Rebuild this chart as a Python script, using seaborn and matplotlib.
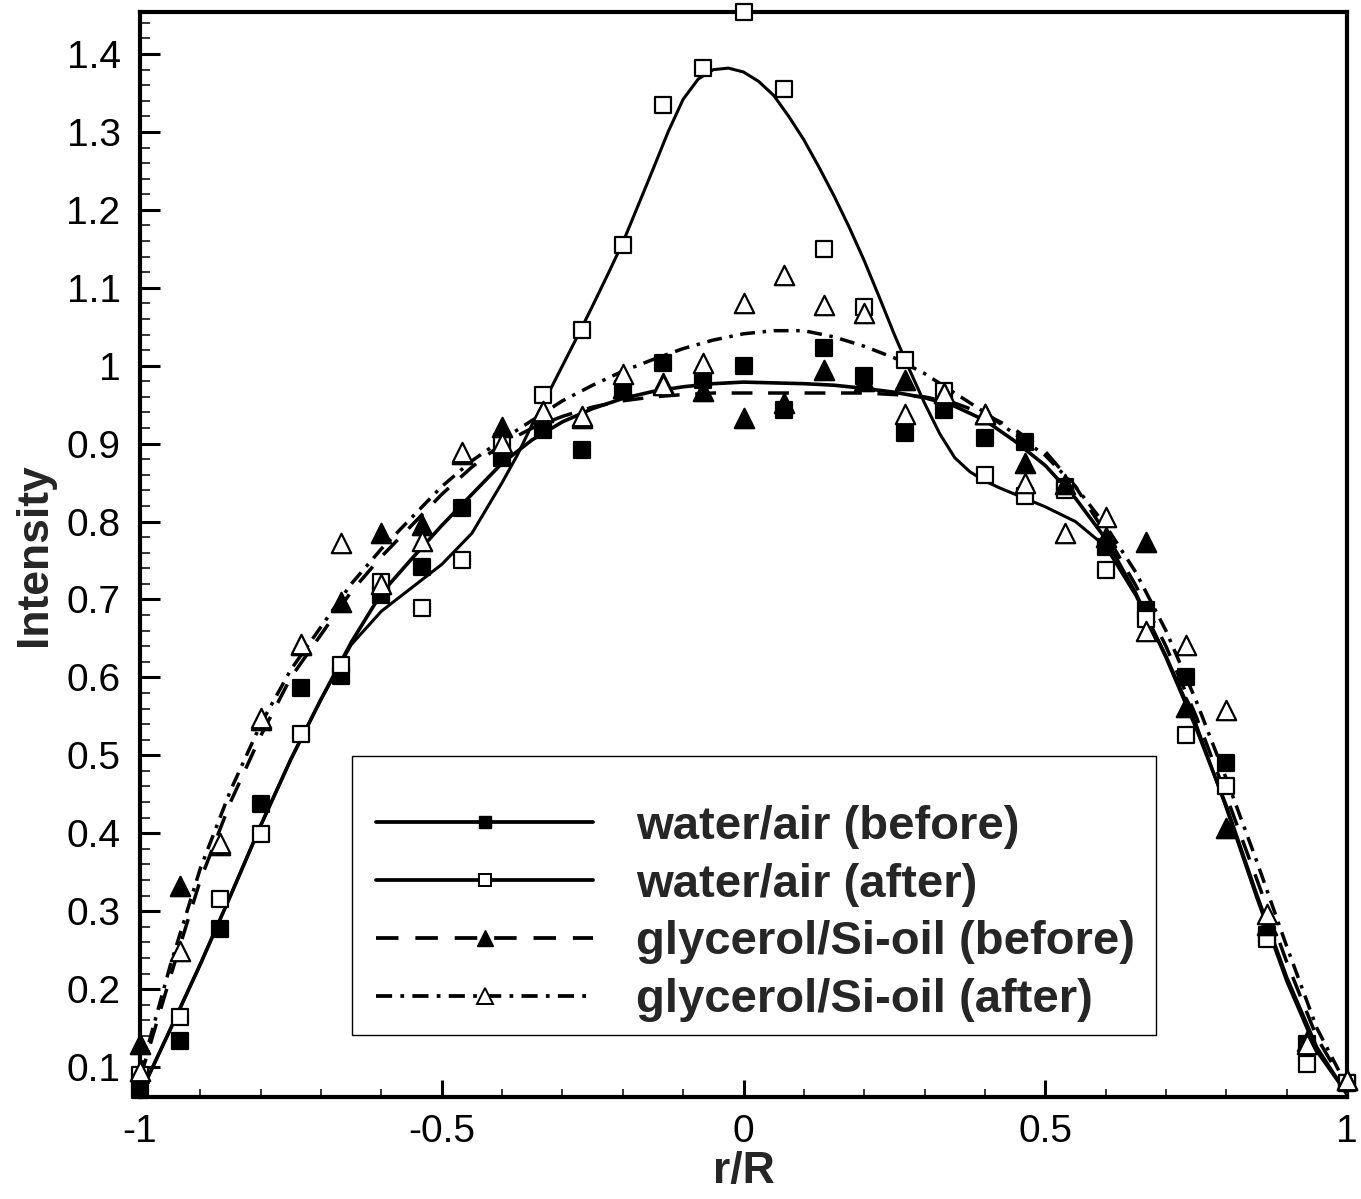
import numpy as np
import matplotlib
matplotlib.use("Agg")
import matplotlib.pyplot as plt
from matplotlib.lines import Line2D
from matplotlib.patches import Rectangle
from matplotlib.ticker import MultipleLocator, FuncFormatter
import seaborn as sns

# measured profiles at 31 radial stations
r_pts = [-1.0, -0.933, -0.867, -0.8, -0.733, -0.667, -0.6, -0.533, -0.467, -0.4,
         -0.333, -0.267, -0.2, -0.133, -0.067, 0.0, 0.067, 0.133, 0.2, 0.267,
         0.333, 0.4, 0.467, 0.533, 0.6, 0.667, 0.733, 0.8, 0.867, 0.933, 1.0]

water_before = [0.070, 0.133, 0.277, 0.438, 0.587, 0.602, 0.706, 0.742, 0.818, 0.882,
                0.918, 0.892, 0.970, 1.004, 0.982, 1.000, 0.943, 1.023, 0.987, 0.914,
                0.943, 0.907, 0.902, 0.845, 0.768, 0.687, 0.601, 0.490, 0.270, 0.130, 0.080]

water_after = [0.090, 0.164, 0.316, 0.399, 0.527, 0.616, 0.723, 0.689, 0.751, 0.902,
               0.962, 1.046, 1.155, 1.335, 1.382, 1.454, 1.355, 1.150, 1.075, 1.008,
               0.967, 0.860, 0.833, 0.840, 0.738, 0.675, 0.526, 0.460, 0.264, 0.104, 0.080]

glyc_before = [0.130, 0.332, 0.385, 0.545, 0.642, 0.697, 0.785, 0.795, 0.887, 0.922,
               0.941, 0.933, 0.972, 0.978, 0.967, 0.933, 0.952, 0.995, 0.980, 0.982,
               0.965, 0.938, 0.875, 0.848, 0.780, 0.774, 0.562, 0.407, 0.282, 0.133, 0.083]

glyc_after = [0.095, 0.249, 0.388, 0.548, 0.643, 0.772, 0.720, 0.775, 0.889, 0.901,
              0.942, 0.935, 0.990, 0.975, 1.004, 1.080, 1.117, 1.078, 1.068, 0.938,
              0.965, 0.938, 0.850, 0.785, 0.806, 0.659, 0.642, 0.558, 0.297, 0.130, 0.083]

# smoothed fit curves, sampled every 0.05 in r/R
r_fit = [-1.0, -0.95, -0.9, -0.85, -0.8, -0.75, -0.7, -0.65, -0.6, -0.55, -0.5,
         -0.45, -0.4, -0.35, -0.3, -0.25, -0.2, -0.15, -0.1, -0.05, 0.0,
         0.05, 0.1, 0.15, 0.2, 0.25, 0.3, 0.35, 0.4, 0.45, 0.5,
         0.55, 0.6, 0.65, 0.7, 0.75, 0.8, 0.85, 0.9, 0.95, 1.0]

fit_water_before = [0.065, 0.148, 0.232, 0.320, 0.410, 0.495, 0.572, 0.645, 0.708, 0.752, 0.795,
                    0.835, 0.875, 0.905, 0.928, 0.945, 0.958, 0.967, 0.973, 0.977, 0.979,
                    0.978, 0.977, 0.975, 0.971, 0.966, 0.959, 0.948, 0.930, 0.903, 0.872,
                    0.830, 0.778, 0.708, 0.626, 0.535, 0.435, 0.322, 0.215, 0.125, 0.065]

fit_glyc_before = [0.085, 0.215, 0.340, 0.440, 0.525, 0.600, 0.655, 0.710, 0.755, 0.795, 0.835,
                   0.870, 0.900, 0.920, 0.935, 0.947, 0.955, 0.960, 0.963, 0.965, 0.965,
                   0.965, 0.965, 0.965, 0.965, 0.963, 0.960, 0.952, 0.938, 0.918, 0.890,
                   0.845, 0.785, 0.718, 0.640, 0.550, 0.448, 0.342, 0.235, 0.138, 0.072]

fit_glyc_after = [0.090, 0.230, 0.355, 0.455, 0.540, 0.610, 0.665, 0.720, 0.765, 0.805, 0.845,
                  0.878, 0.905, 0.930, 0.955, 0.975, 0.993, 1.008, 1.022, 1.033, 1.041,
                  1.045, 1.045, 1.037, 1.025, 1.010, 0.990, 0.965, 0.940, 0.912, 0.885,
                  0.845, 0.795, 0.735, 0.660, 0.570, 0.470, 0.365, 0.255, 0.150, 0.075]

# the water/air (after) fit has a sharp central peak, so it is sampled more densely
r_fit_peak = [-1.0, -0.95, -0.9, -0.85, -0.8, -0.75, -0.7, -0.65, -0.6, -0.55, -0.5,
              -0.45, -0.4, -0.375, -0.35, -0.325, -0.3, -0.275, -0.25, -0.225, -0.2,
              -0.175, -0.15, -0.125, -0.1, -0.075, -0.05, -0.025, 0.0, 0.025, 0.05,
              0.075, 0.1, 0.125, 0.15, 0.175, 0.2, 0.225, 0.25, 0.275, 0.3,
              0.325, 0.35, 0.375, 0.4, 0.425, 0.45, 0.5, 0.55, 0.6, 0.65,
              0.7, 0.75, 0.8, 0.85, 0.9, 0.95, 1.0]

fit_water_after = [0.065, 0.148, 0.232, 0.320, 0.410, 0.495, 0.572, 0.642, 0.685, 0.715, 0.745,
                   0.785, 0.850, 0.885, 0.925, 0.962, 1.000, 1.038, 1.077, 1.117, 1.158,
                   1.205, 1.252, 1.300, 1.342, 1.368, 1.380, 1.382, 1.377, 1.365, 1.347,
                   1.320, 1.290, 1.255, 1.218, 1.178, 1.135, 1.088, 1.040, 0.995, 0.952,
                   0.913, 0.882, 0.864, 0.852, 0.843, 0.835, 0.819, 0.800, 0.768, 0.705,
                   0.628, 0.540, 0.432, 0.318, 0.210, 0.120, 0.065]

labels = ["water/air (before)", "water/air (after)",
          "glycerol/Si-oil (before)", "glycerol/Si-oil (after)"]

sns.set_theme(style="ticks")
plt.rcParams["font.family"] = ["Liberation Sans", "DejaVu Sans"]
plt.rcParams["axes.unicode_minus"] = False

fig = plt.figure(figsize=(13.61, 11.99), dpi=100)
ax = fig.add_axes([140 / 1361, 1 - 1097 / 1199, 1207 / 1361, 1085 / 1199])

solid = "-"
dashed = (0, (6, 4.5))
dashdot = (0, (4.3, 2.2, 1, 2.2))

curves = [
    (r_fit, fit_water_before, solid, 2.6),
    (r_fit_peak, fit_water_after, solid, 2.2),
    (r_fit, fit_glyc_before, dashed, 2.5),
    (r_fit, fit_glyc_after, dashdot, 2.5),
]
for xv, yv, ls, lw in curves:
    sns.lineplot(x=xv, y=yv, ax=ax, color="black", linewidth=lw,
                 linestyle=ls, estimator=None, sort=False, zorder=3)

points = [
    (water_before, "s", "black", 120),
    (water_after, "s", "white", 120),
    (glyc_before, "^", "black", 195),
    (glyc_after, "^", "white", 195),
]
for yv, mk, fc, sz in points:
    sns.scatterplot(x=r_pts, y=yv, ax=ax, marker=mk, s=sz, color=fc,
                    edgecolor="black", linewidth=1.6, clip_on=False, zorder=6)

ax.set_xlim(-1, 1)
ax.set_ylim(0.0615, 1.454)

ax.xaxis.set_major_locator(MultipleLocator(0.5))
ax.xaxis.set_minor_locator(MultipleLocator(0.1))
ax.yaxis.set_major_locator(MultipleLocator(0.1))
ax.yaxis.set_minor_locator(MultipleLocator(0.02))
fmt = FuncFormatter(lambda v, p: "%g" % round(v, 2))
ax.xaxis.set_major_formatter(fmt)
ax.yaxis.set_major_formatter(fmt)

ax.tick_params(axis="both", which="both", direction="in", top=False, right=False,
               colors="black", labelsize=28)
ax.tick_params(axis="y", which="major", length=14.5, width=2.2, pad=14)
ax.tick_params(axis="y", which="minor", length=7.5, width=1.1)
ax.tick_params(axis="x", which="major", length=12, width=2.2, pad=12)
ax.tick_params(axis="x", which="minor", length=5.5, width=1.1)

for sp in ax.spines.values():
    sp.set_linewidth(3.0)
    sp.set_color("black")
    sp.set_zorder(4)

ax.set_xlabel("r/R", fontsize=32, fontweight="bold", labelpad=1)
ax.set_ylabel("Intensity", fontsize=32, fontweight="bold", labelpad=8)

handles = [
    Line2D([], [], color="black", lw=2.7, ls=solid, marker="s", ms=8,
           mfc="black", mec="black"),
    Line2D([], [], color="black", lw=2.7, ls=solid, marker="s", ms=8,
           mfc="white", mec="black", mew=1.4),
    Line2D([], [], color="black", lw=2.7, ls=dashed, marker="^", ms=11,
           mfc="black", mec="black"),
    Line2D([], [], color="black", lw=2.7, ls=dashdot, marker="^", ms=11,
           mfc="white", mec="black", mew=1.4),
]
leg = ax.legend(handles, labels, loc="upper left",
                bbox_to_anchor=((376 - 140) / 1207, 1 - (805 - 12) / 1085),
                frameon=False, borderpad=0, borderaxespad=0,
                handlelength=4.6, handletextpad=0.9, labelspacing=0.29,
                numpoints=1, prop={"size": 34, "weight": "bold"})
leg.set_zorder(7)

ax.add_patch(Rectangle(((352 - 140) / 1207, 1 - (1035 - 12) / 1085),
                       (1156 - 352) / 1207, (1035 - 756) / 1085,
                       transform=ax.transAxes, facecolor="white",
                       edgecolor="black", linewidth=1.0, zorder=6.5))

fig.savefig("out.png", dpi=100)
